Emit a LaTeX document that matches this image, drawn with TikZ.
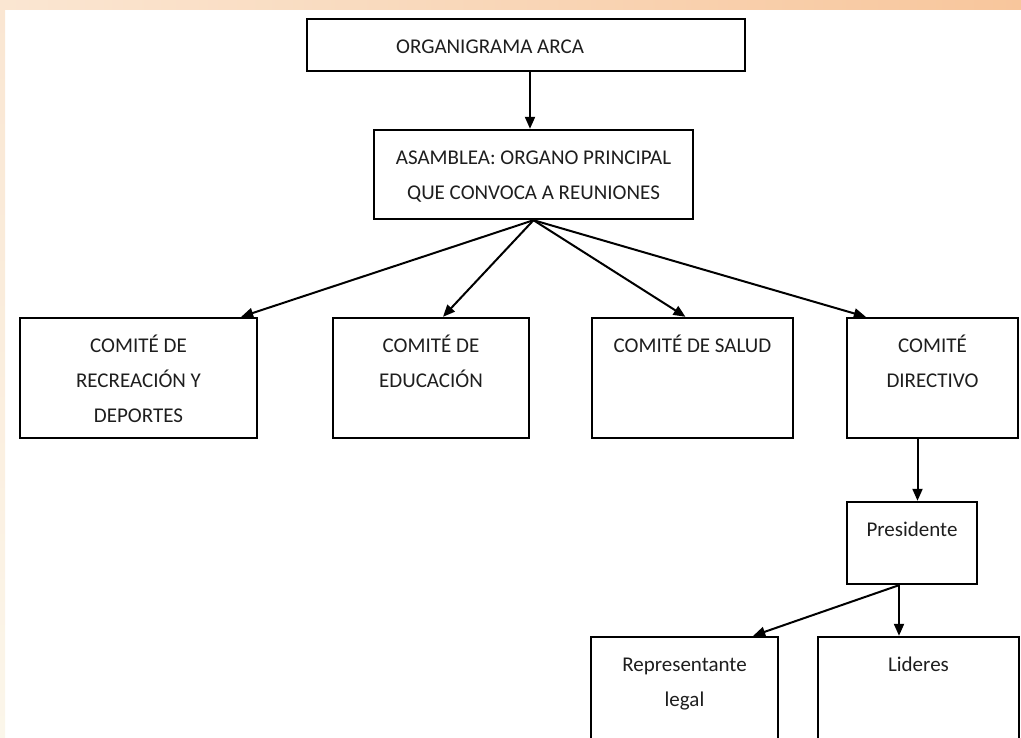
\documentclass[tikz,border=0pt]{standalone}
\usepackage{fontspec}
\setmainfont{Carlito}
\usetikzlibrary{arrows.meta}
\definecolor{peach}{RGB}{250,230,210}
\definecolor{apricot}{RGB}{248,198,156}
\definecolor{cream}{RGB}{251,246,234}
\definecolor{inkgray}{RGB}{30,30,30}

\begin{document}
\begin{tikzpicture}[x=1pt, y=-1pt,
        main/.style = {draw, line width=2.4pt, inner sep=0pt},
        txt/.style = {anchor=north, yshift=-11pt, inner sep=0pt, align=center, text=inkgray,
            font=\fontsize{21}{35}\selectfont, execute at begin node=\strut},
        arr/.style = {line width=2pt, -{Triangle[length=12pt,width=10pt]}}]
            \useasboundingbox (0,0) rectangle (1021,738);
            \clip (0,0) rectangle (1021,738);
            % border strips
            \shade[left color=peach, right color=apricot] (0,0) rectangle (1021,10);
            \shade[top color=peach, bottom color=cream] (0,10) rectangle (5,738);
            % boxes
            \node[main, minimum width=438pt, minimum height=52pt,
                label={[txt, xshift=-36pt]north:ORGANIGRAMA ARCA}] (1) at (526,45) {};
            \node[main, minimum width=319pt, minimum height=89pt,
                label={[txt]north:{\strut ASAMBLEA: ORGANO PRINCIPAL\\QUE CONVOCA A REUNIONES}}] (2) at (533.5,174.5) {};
            \node[main, minimum width=237pt, minimum height=120pt,
                label={[txt]north:{\strut COMITÉ DE\\RECREACIÓN Y\\DEPORTES}}] (3) at (138.5,378) {};
            \node[main, minimum width=196pt, minimum height=120pt,
                label={[txt]north:{\strut COMITÉ DE\\EDUCACIÓN}}] (4) at (431,378) {};
            \node[main, minimum width=201pt, minimum height=120pt,
                label={[txt]north:{COMITÉ DE SALUD}}] (5) at (692.5,378) {};
            \node[main, minimum width=171pt, minimum height=120pt,
                label={[txt]north:{\strut COMITÉ\\DIRECTIVO}}] (6) at (932.5,378) {};
            \node[main, minimum width=130pt, minimum height=82pt,
                label={[txt]north:Presidente}] (7) at (912,543) {};
            \node[main, minimum width=187pt, minimum height=120pt,
                label={[txt]north:{\strut Representante\\legal}}] (8) at (684.5,697) {};
            \node[main, minimum width=201pt, minimum height=120pt,
                label={[txt]north:Lideres}] (9) at (918.5,697) {};
            % arrows
            \coordinate (a) at ([xshift=4pt]1.south);
            \coordinate (b) at ([xshift=-15pt]6.south);
            \coordinate (c) at ([xshift=-13pt]7.south);
            \draw[arr] (a) -- (a |- 2.north);
            \draw[arr] (2.south) -- ([xshift=-17pt]3.north east);
            \draw[arr] (2.south) -- ([xshift=12pt]4.north);
            \draw[arr] (2.south) -- ([xshift=-7pt]5.north);
            \draw[arr] (2.south) -- ([xshift=20pt]6.north west);
            \draw[arr] (b) -- (b |- 7.north);
            \draw[arr] (c) -- ([xshift=-26pt]8.north east);
            \draw[arr] (c) -- (c |- 9.north);
        \end{tikzpicture}
\end{document}
